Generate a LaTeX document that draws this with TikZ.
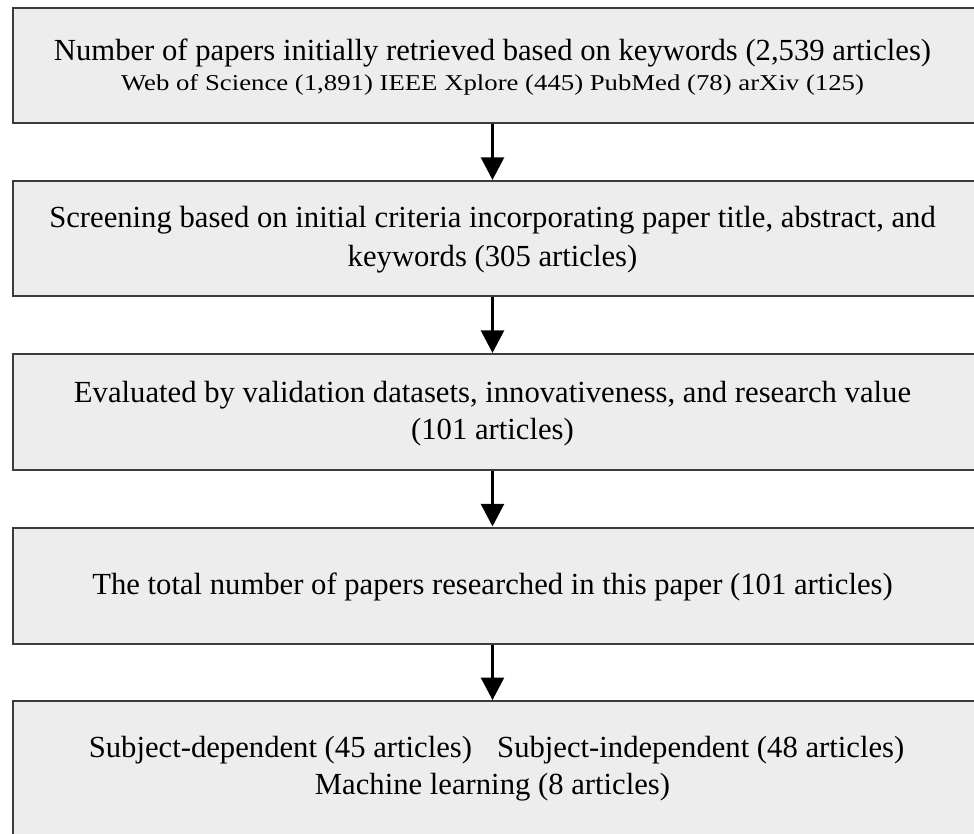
\documentclass[tikz,border=0pt]{standalone}
\usepackage{fontspec}
\setmainfont{Liberation Serif}
\newfontfamily\sourcefont[FakeStretch=1.18]{Liberation Serif}
\usetikzlibrary{arrows.meta}
\definecolor{boxline}{HTML}{3C3C3C}
\definecolor{boxfill}{HTML}{EDEDED}
\begin{document}
\begin{tikzpicture}[x=0.75pt,y=-0.75pt,
  stage/.style={draw=boxline, line width=1.5pt, fill=boxfill, minimum width=722.6pt, inner sep=0pt},
  txt/.style={anchor=base, inner sep=0pt, font=\fontsize{23}{28}\selectfont},
  subtxt/.style={anchor=base, inner sep=0pt, font=\sourcefont\fontsize{17}{21}\selectfont},
  flow/.style={-{Triangle[length=17pt,width=17pt]}, line width=2.75pt}]
\useasboundingbox (0,0) rectangle (974,834);

% centre line of the flow
\coordinate (axis) at (492.5,0);

% process stages (right and bottom edges run off the page)
\node[stage, minimum height=86.6pt] (b1) at (494.25,65.75) {};
\node[stage, minimum height=86.6pt] (b2) at (494.25,238.75) {};
\node[stage, minimum height=87pt]   (b3) at (494.25,412) {};
\node[stage, minimum height=87pt]   (b4) at (494.25,585.5) {};
\node[stage, minimum height=104pt]  (b5) at (494.25,770.5) {};

% stage texts
\node[txt]    (t1a) at (492.5,61)  {Number of papers initially retrieved based on keywords (2,539 articles)};
\node[subtxt] (t1b) at (492.5,91)  {Web of Science (1,891) IEEE Xplore (445) PubMed (78) arXiv (125)};
\node[txt]    (t2a) at (492.5,228) {Screening based on initial criteria incorporating paper title, abstract, and};
\node[txt]    (t2b) at (492.5,267) {keywords (305 articles)};
\node[txt]    (t3a) at (492.5,402) {Evaluated by validation datasets, innovativeness, and research value};
\node[txt]    (t3b) at (492.5,439) {(101 articles)};
\node[txt]    (t4)  at (492.5,594) {The total number of papers researched in this paper (101 articles)};
\node[txt]    (t5a) at (496.5,757) {Subject-dependent (45 articles)\hspace{0.82em}Subject-independent (48 articles)};
\node[txt]    (t5b) at (492.5,794) {Machine learning (8 articles)};

% connectors
\draw[flow] (b1.south -| axis) -- (b2.north -| axis);
\draw[flow] (b2.south -| axis) -- (b3.north -| axis);
\draw[flow] (b3.south -| axis) -- (b4.north -| axis);
\draw[flow] (b4.south -| axis) -- (b5.north -| axis);
\end{tikzpicture}
\end{document}
